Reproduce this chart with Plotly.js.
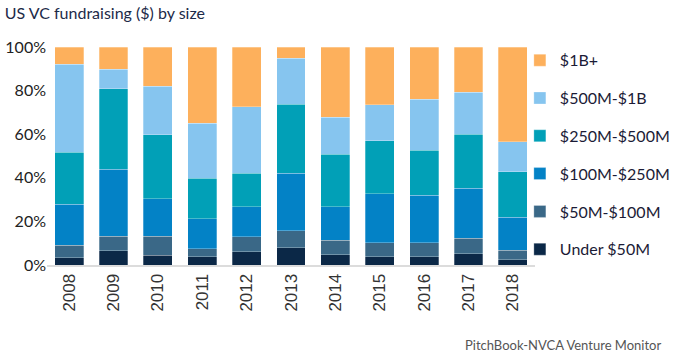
<!DOCTYPE html>
<html>
<head>
<meta charset="utf-8">
<script src="https://cdn.plot.ly/plotly-3.0.1.min.js"></script>
<style>html,body{margin:0;padding:0;background:#fff;}#chart{width:677px;height:354px;}</style>
</head>
<body>
<div id="chart"></div>
<script>
var years = ['2008','2009','2010','2011','2012','2013','2014','2015','2016','2017','2018'];
var seriesNames = ['Under $50M','$50M-$100M','$100M-$250M','$250M-$500M','$500M-$1B','$1B+'];
var under50 =   [3.4, 6.6, 4.4, 3.8, 6.1, 8.0, 4.6, 3.8, 3.8, 5.2, 2.4];
var m50to100 =  [5.6, 6.7, 8.9, 3.6, 6.8, 7.6, 6.8, 6.5, 6.5, 7.1, 4.4];
var m100to250 = [18.9, 30.7, 17.2, 13.8, 13.9, 26.4, 15.4, 22.5, 21.6, 22.8, 15.0];
var m250to500 = [23.8, 36.8, 29.3, 18.7, 15.2, 31.8, 24.1, 24.3, 20.7, 24.9, 21.0];
var m500to1b =  [40.3, 9.1, 22.1, 25.1, 30.7, 21.0, 16.9, 16.5, 23.5, 19.3, 13.8];
var b1plus =    [8.0, 10.1, 18.1, 35.0, 27.3, 5.2, 32.2, 26.4, 23.9, 20.7, 43.4];
var colors = ['#0b2847','#3a6887','#0382c6','#01a0b7','#86c5ef','#fdb05c'];
var values = [under50, m50to100, m100to250, m250to500, m500to1b, b1plus];

var traces = values.map(function(v, i){
  return {
    type: 'bar', x: years, y: v, name: seriesNames[i], legendgroup: 'g'+i,
    legendrank: 6 - i,
    marker: {color: colors[i], line: {color: 'rgba(255,255,255,0.35)', width: 0.8}},
    hoverinfo: 'x+y+name'
  };
});

var layout = {
  width: 677, height: 354,
  margin: {l: 47, r: 142, t: 47, b: 89, autoexpand: false},
  paper_bgcolor: '#fff', plot_bgcolor: '#fff',
  barmode: 'stack', bargap: 0.35,
  font: {family: 'Lato, sans-serif', color: '#222'},
  title: {text: 'US VC fundraising ($) by size', x: 0.007, xanchor: 'left', xref: 'container',
          y: 0.963, yanchor: 'middle', yref: 'container',
          font: {family: 'Lato, sans-serif', size: 16, color: '#1c2a48'}},
  xaxis: {type: 'category', showline: true, linecolor: '#dcdcdc', linewidth: 2,
          showgrid: false, zeroline: false, ticks: '', tickangle: -90,
          tickfont: {family: 'Liberation Sans, Arial, sans-serif', size: 17, color: '#333'}},
  yaxis: {range: [0, 100], dtick: 20, ticksuffix: '%', showgrid: false, zeroline: false,
          showline: false, ticks: '', ticklabelstandoff: 0,
          tickfont: {family: 'Lato, sans-serif', size: 16, color: '#222'}},
  legend: {x: 0.969, xanchor: 'left', y: 1.017, yanchor: 'top', traceorder: 'grouped',
           tracegroupgap: 14, itemwidth: 30, maxheight: 340, bgcolor: 'rgba(0,0,0,0)',
           font: {family: 'Lato, sans-serif', size: 16, color: '#1b1b36'}},
  annotations: [{text: 'PitchBook-NVCA Venture Monitor', xref: 'paper', yref: 'paper',
                 x: 1.262, xanchor: 'right', y: -0.367, yanchor: 'middle', showarrow: false,
                 font: {family: 'Lato, sans-serif', size: 13, color: '#555'}}]
};

Plotly.newPlot('chart', traces, layout, {displayModeBar: false, staticPlot: true});
</script>
</body>
</html>
